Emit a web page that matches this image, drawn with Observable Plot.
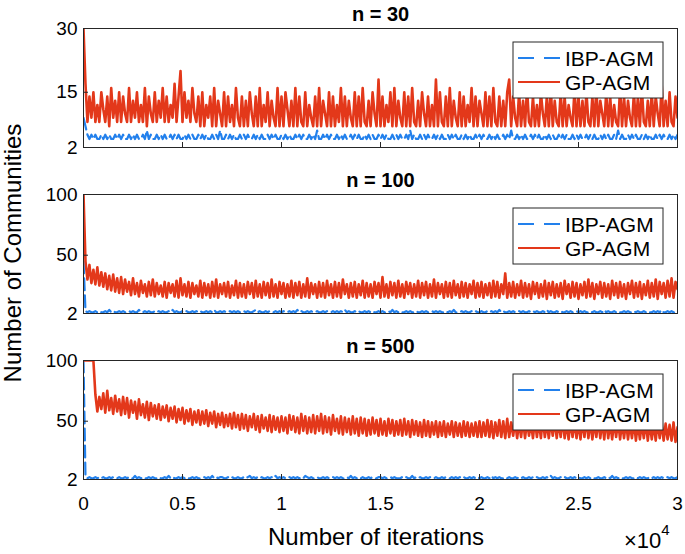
<!DOCTYPE html>
<html><head><meta charset="utf-8">
<script src="https://cdn.jsdelivr.net/npm/d3@7"></script>
<script src="https://cdn.jsdelivr.net/npm/@observablehq/plot@0.6"></script>
<style>
body{margin:0;background:#fff;}
#fig{position:relative;width:685px;height:554px;background:#fff;font-family:"Liberation Sans",Arial,Helvetica,sans-serif;overflow:hidden;}
#fig svg{position:absolute;left:0;}
</style></head><body><div id="fig"></div>
<script>
// ---------- data ----------
const titles = ["n = 30", "n = 100", "n = 500"];
const seriesNames = ["IBP-AGM", "GP-AGM"];
const xTicks = [0, 5000, 10000, 15000, 20000, 25000, 30000];
const xTickLabels = ["0", "0.5", "1", "1.5", "2", "2.5", "3"];
const yDomains = [[2, 30], [2, 100], [2, 100]];
const yTicks = [[2, 15, 30], [2, 50, 100], [2, 50, 100]];
const iterStep = 100; // one sample every 100 iterations, 0..30000

const gp30 = [
 30,17,8,14,9,15,8,12,8,15,11,8,14,7,16,9,13,8,15,8,
 14,10,8,16,8,13,9,15,8,12,8,16,7,14,10,8,15,8,13,9,
 16,8,14,8,12,9,17,8,14,20,8,15,9,13,8,16,10,8,14,7,
 15,7,12,9,14,7,16,7,13,10,7,15,7,14,8,12,7,16,9,7,
 14,7,13,7,15,10,7,14,7,16,7,12,8,15,7,13,9,7,16,7,
 14,7,15,11,7,13,7,16,7,14,8,7,15,7,12,9,7,14,7,16,
 7,13,10,7,15,7,14,7,12,8,16,7,14,7,13,9,7,15,7,14,
 7,16,8,7,13,7,15,10,7,18,7,14,7,12,8,15,7,16,7,13,
 9,7,15,7,14,7,16,8,7,13,7,15,10,7,14,7,12,7,18,7,
 15,8,7,14,7,16,7,13,9,7,15,7,14,7,12,8,16,7,14,7,
 13,10,7,15,7,14,7,16,8,7,14,7,13,7,15,18,7,14,9,7,
 15,7,13,7,16,8,7,14,7,12,7,15,10,7,14,7,16,7,13,8,
 7,15,7,14,7,12,9,7,16,7,14,7,13,7,15,8,7,14,7,16,
 7,13,10,7,15,7,14,7,12,8,7,16,7,14,7,13,9,7,15,7,
 14,7,16,8,7,13,7,15,7,14,10,7,17,7,13,7,15,8,7,14,
 9];
const ibp30 = [
 9,7,5,4,5,4,5,4,4,5,4,5,4,5,4,4,5,4,5,4,
 5,4,4,5,4,5,4,5,4,4,5,4,6,4,5,4,4,5,4,5,
 4,5,4,4,5,4,5,4,5,4,4,5,4,5,4,5,4,4,5,4,
 5,4,5,4,4,5,4,5,4,6,4,4,5,4,5,4,5,4,4,5,
 4,5,4,5,4,4,5,4,5,4,5,4,4,5,4,5,4,5,4,4,
 5,4,5,4,5,4,4,5,4,5,4,5,4,4,5,4,5,4,6,4,
 4,5,4,5,4,5,4,4,5,4,5,4,5,4,4,5,4,5,4,5,
 4,4,5,4,5,4,5,4,4,5,4,5,4,5,4,4,5,4,5,4,
 5,4,4,5,4,6,4,5,4,4,5,4,5,4,5,4,4,5,4,5,
 4,5,4,4,5,4,5,4,5,4,4,5,4,5,4,5,4,4,5,4,
 5,4,5,4,4,5,4,5,4,5,4,4,5,4,5,4,6,4,4,5,
 4,5,4,5,4,4,5,4,5,4,5,4,4,5,4,5,4,5,4,4,
 5,4,5,4,5,4,4,5,4,5,4,5,4,4,5,4,5,4,5,4,
 4,5,4,5,4,5,4,4,5,4,6,4,5,4,4,5,4,5,4,5,
 4,4,5,4,5,4,5,4,4,5,4,5,4,5,4,4,5,4,5,4,
 5];
const gp100 = [
 100,45,30,42,27,38,26,40,25,36,24,35,22,33,21,34,20,31,19,32,
 18,30,20,28,17,31,18,27,16,29,19,26,16,28,17,30,16,27,18,25,
 16,28,15,27,19,26,16,29,15,31,17,26,16,28,15,27,18,25,16,29,
 15,27,17,26,15,28,16,30,15,26,18,27,16,28,15,25,17,29,15,27,
 16,26,15,28,18,27,15,29,16,26,15,28,17,27,15,30,16,26,15,28,
 18,27,15,26,16,29,15,27,17,28,15,26,16,31,15,27,18,26,15,28,
 16,27,15,29,17,26,15,28,16,27,15,30,18,26,15,27,16,28,15,26,
 17,29,15,27,16,26,15,28,18,27,15,32,16,26,15,28,17,27,15,29,
 16,26,15,28,18,27,15,26,16,29,15,27,17,28,15,26,16,30,15,27,
 18,26,15,28,16,27,15,29,17,26,15,28,16,27,15,26,18,29,15,27,
 16,28,15,26,17,27,15,29,16,28,15,26,18,35,15,27,16,28,15,26,
 17,29,15,27,16,26,14,28,18,27,15,26,16,29,14,27,17,28,15,26,
 16,27,14,29,18,26,15,28,16,27,14,26,17,28,15,30,16,27,14,26,
 18,28,15,27,16,26,14,29,17,27,15,28,16,26,14,27,18,29,15,27,
 16,28,14,26,17,29,15,27,16,30,14,28,18,27,15,29,16,31,15,28,
 22];
const ibp100 = [
 45,4,3,4,3,3,4,3,4,3,3,4,3,5,3,4,3,3,4,3,
 4,3,3,4,3,4,3,3,5,3,3,4,3,4,3,3,4,3,4,3,
 4,3,3,4,3,5,3,4,3,3,4,3,4,3,3,4,3,4,3,4,
 3,3,4,3,4,3,5,3,3,4,3,4,3,3,4,3,4,3,4,3,
 3,4,3,4,3,3,4,5,3,4,3,3,4,3,4,3,3,4,3,4,
 3,4,3,3,4,3,4,3,5,3,4,3,3,4,3,4,3,3,4,3,
 3,4,3,4,3,3,4,3,4,3,4,3,5,3,4,3,3,4,3,4,
 3,3,4,3,4,3,4,3,3,4,3,4,3,3,4,3,5,3,4,3,
 4,3,3,4,3,4,3,3,4,3,3,4,3,4,3,3,4,3,4,3,
 4,3,3,4,3,4,3,5,3,3,3,4,3,4,3,3,4,3,4,3,
 3,4,3,3,4,3,4,3,4,3,5,3,4,3,3,4,3,4,3,3,
 4,3,4,3,3,4,3,4,3,4,3,3,4,3,5,3,4,3,3,4,
 3,4,3,3,4,3,4,3,3,4,3,4,3,4,3,3,4,3,4,3,
 3,4,3,5,3,4,3,3,4,3,4,3,3,4,3,4,3,3,4,3,
 4,3,3,4,3,4,3,3,4,3,4,3,5,3,3,4,3,4,3,3,
 4];
const gp500 = [
 100,100,100,100,100,100,72,58,70,60,73,57,75,59,69,56,71,58,68,55,
 70,56,69,53,67,57,66,52,68,55,64,53,66,51,65,54,63,52,64,51,
 62,53,63,50,61,52,62,49,60,51,61,48,59,50,60,47,58,49,59,47,
 58,48,59,46,57,48,58,45,56,47,57,45,55,46,56,44,57,45,55,43,
 56,44,55,42,54,45,56,43,54,41,55,44,53,42,55,41,54,43,53,41,
 54,42,53,40,55,43,54,41,53,40,56,42,54,40,53,41,55,40,54,42,
 56,40,54,41,53,39,55,42,52,40,54,39,53,41,52,39,54,40,52,38,
 53,40,52,38,51,39,53,40,51,38,52,39,50,38,52,40,51,38,50,39,
 51,38,52,39,50,37,51,39,50,38,49,37,51,38,50,37,49,39,50,37,
 49,38,50,37,48,39,50,37,49,38,48,37,50,38,49,37,48,38,49,37,
 50,37,49,38,51,37,50,36,49,38,51,37,50,36,52,37,49,38,50,36,
 49,37,51,36,50,38,49,36,51,37,50,36,52,37,49,36,50,38,51,36,
 50,37,52,36,49,35,51,37,50,36,49,35,51,37,52,36,50,35,49,37,
 51,36,50,35,52,36,49,35,50,37,51,35,49,36,50,35,48,36,50,34,
 49,35,48,36,50,34,49,35,48,34,50,36,49,34,48,35,47,34,49,33,
 45];
const ibp500 = [
 100,4,3,4,3,3,4,3,4,3,4,3,3,4,3,4,3,3,4,3,
 3,4,3,4,3,3,5,3,4,3,4,3,3,4,3,4,3,3,4,3,
 3,4,3,5,3,4,3,3,4,3,4,3,4,3,3,4,3,4,3,3,
 3,4,3,4,3,5,3,4,3,4,4,3,3,4,3,4,3,3,4,3,
 3,4,3,4,5,3,4,3,4,3,4,3,3,4,3,4,3,5,3,4,
 3,4,3,3,4,3,4,3,4,3,4,3,5,4,3,4,3,3,4,3,
 3,4,3,4,3,3,4,3,4,3,4,3,3,4,3,5,3,4,3,4,
 3,4,3,3,4,3,4,3,3,4,4,3,4,3,3,4,3,4,3,3,
 3,4,3,4,3,3,5,3,4,3,4,3,3,4,3,4,3,3,4,3,
 3,4,3,4,3,3,4,3,4,3,4,3,4,3,3,4,3,4,3,4,
 3,4,3,3,4,3,5,3,4,3,4,3,3,4,3,4,3,3,4,3,
 4,3,4,3,3,4,3,4,3,4,3,3,4,3,4,3,5,3,4,3,
 3,4,3,4,3,3,4,3,4,3,4,3,3,4,3,4,3,4,3,3,
 4,3,3,4,3,4,3,5,3,4,3,4,3,3,4,3,4,3,3,4,
 3,4,3,4,3,3,4,3,4,3,4,3,4,3,3,4,3,4,3,3,
 4];
const gpSeries = [gp30, gp100, gp500];
const ibpSeries = [ibp30, ibp100, ibp500];

// ---------- style ----------
const BLUE = "#2280ec", RED = "#e3381a", AX = "#262626";
const FONT = '"Liberation Sans", Arial, Helvetica, sans-serif';
const W = 685, ML = 83, MR = 8, MT = 28, FH = 119, FW = W - ML - MR, PANEL_STEP = 166;

const fig = document.getElementById("fig");

for (let k = 0; k < 3; k++) {
  const last = k === 2;
  const gpRows = gpSeries[k].map((v, i) => ({it: i * iterStep, v}));
  const ibpRows = ibpSeries[k].map((v, i) => ({it: i * iterStep, v}));
  const marks = [
    Plot.lineY(ibpRows, {x: "it", y: "v", stroke: BLUE, strokeWidth: 2.2, strokeDasharray: "12,5", clip: true}),
    Plot.lineY(gpRows, {x: "it", y: "v", stroke: RED, strokeWidth: 2.6, clip: true}),
    Plot.tickX(xTicks, {x: d => d, insetTop: FH - 5, stroke: AX}),
    Plot.tickY(yTicks[k], {y: d => d, insetRight: FW - 5, stroke: AX}),
    Plot.frame({stroke: AX, strokeWidth: 1}),
    Plot.axisY({ticks: yTicks[k], tickSize: 0, tickPadding: 6, label: null, fill: "#000"}),
    Plot.text([titles[k]], {frameAnchor: "top", dy: -14, lineAnchor: "middle", fontWeight: "bold", fontSize: 20, fill: "#000"})
  ];
  if (last) marks.push(Plot.axisX({ticks: xTicks, tickSize: 0, tickPadding: 17, label: null, fill: "#000",
    tickFormat: d => xTickLabels[xTicks.indexOf(d)]}));
  const h = last ? 554 - 2 * PANEL_STEP : PANEL_STEP;
  const svg = Plot.plot({
    width: W, height: h,
    marginLeft: ML, marginRight: MR, marginTop: MT, marginBottom: h - MT - FH,
    x: {domain: [0, 30000], axis: null},
    y: {domain: yDomains[k], axis: null},
    style: {fontFamily: FONT, fontSize: "19px", background: "transparent", color: "#000"},
    marks
  });
  svg.style.top = (k * PANEL_STEP) + "px";
  fig.appendChild(svg);
}

// ---------- overlay: legends, shared axis labels ----------
const ov = d3.select(fig).append("svg")
  .attr("width", W).attr("height", 554)
  .style("top", "0px").style("pointer-events", "none")
  .style("font-family", FONT);

for (let k = 0; k < 3; k++) {
  const g = ov.append("g").attr("transform", `translate(513,${k * PANEL_STEP + MT + 14})`);
  g.append("rect").attr("width", 150).attr("height", 56).attr("fill", "#fff").attr("stroke", AX).attr("stroke-width", 1);
  const styles = [{stroke: BLUE, dash: "16,10", w: 2.2}, {stroke: RED, dash: null, w: 2.2}];
  seriesNames.forEach((name, j) => {
    const cy = 16 + j * 24;
    g.append("line").attr("x1", 5).attr("x2", 47).attr("y1", cy).attr("y2", cy)
      .attr("stroke", styles[j].stroke).attr("stroke-width", styles[j].w)
      .attr("stroke-dasharray", styles[j].dash);
    g.append("text").attr("x", 52).attr("y", cy).attr("dy", "0.36em")
      .attr("font-size", 21).attr("fill", "#000").text(name);
  });
}

ov.append("text").attr("transform", "translate(21,253) rotate(-90)")
  .attr("text-anchor", "middle").attr("font-size", 24).attr("fill", "#000")
  .text("Number of Communities");
ov.append("text").attr("x", 376).attr("y", 545)
  .attr("text-anchor", "middle").attr("font-size", 24).attr("fill", "#000")
  .text("Number of iterations");
const mult = ov.append("text").attr("x", 624).attr("y", 548).attr("font-size", 22).attr("fill", "#000");
mult.append("tspan").text("\u00d710");
mult.append("tspan").attr("font-size", 15).attr("dy", -13).text("4");
</script></body></html>
